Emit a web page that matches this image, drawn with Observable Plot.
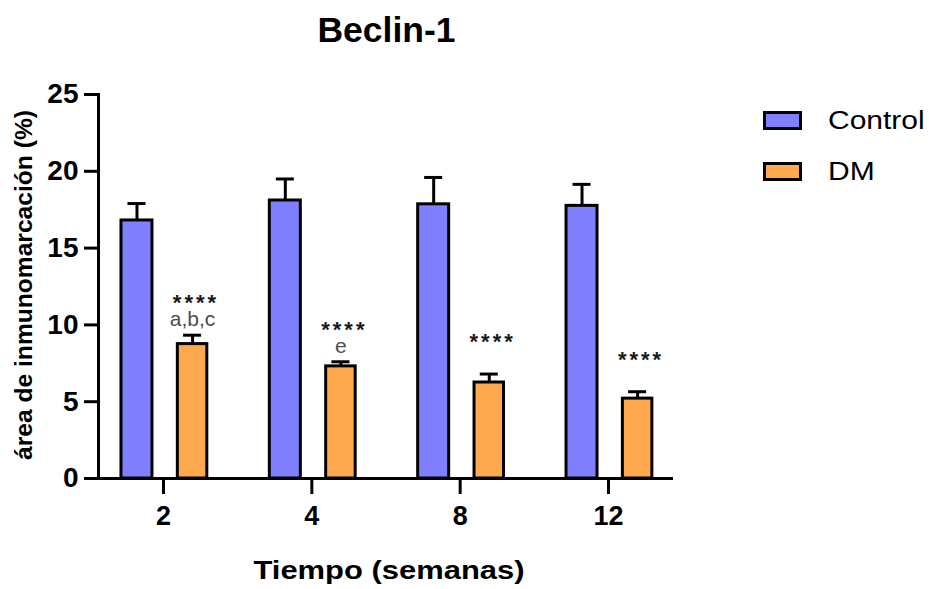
<!DOCTYPE html>
<html><head><meta charset="utf-8">
<script src="https://cdn.jsdelivr.net/npm/d3@7"></script>
<script src="https://cdn.jsdelivr.net/npm/@observablehq/plot@0.6"></script>
<style>
html,body{margin:0;padding:0;background:#fff;}
#wrap{position:relative;width:929px;height:589px;overflow:hidden;font-family:"Liberation Sans",Arial,Helvetica,sans-serif;color:#000;background:#fff;}
#wrap svg{position:absolute;left:0;top:0;}
#wrap svg g[fill="#1a1a1a"] text{letter-spacing:3px;}
.t{position:absolute;white-space:nowrap;line-height:1;}
.sw{position:absolute;box-sizing:border-box;border:3px solid #000;}
</style></head><body><div id="wrap"></div>
<script>
// ---- data ----
const weeks = ["2", "4", "8", "12"];
const groups = ["Control", "DM"];
const controlMean = [16.8, 18.1, 17.85, 17.75];
const controlSem = [1.1, 1.4, 1.75, 1.4];
const dmMean = [8.75, 7.3, 6.25, 5.2];
const dmSem = [0.58, 0.3, 0.55, 0.45];
const dmStars = ["****", "****", "****", "****"];
const dmLetters = ["a,b,c", "e", "", ""];
const yTicks = [0, 5, 10, 15, 20, 25];
const colors = ["#8080FF", "#FFA94F"];
const titleText = "Beclin-1";
const xTitle = "Tiempo (semanas)";
const yTitle = "área de inmunomarcación (%)";

const control = weeks.map((w, i) => ({week: w, group: groups[0], mean: controlMean[i], top: controlMean[i] + controlSem[i]}));
const dm = weeks.map((w, i) => ({week: w, group: groups[1], mean: dmMean[i], top: dmMean[i] + dmSem[i], stars: dmStars[i], letters: dmLetters[i]}));

const font = '"Liberation Sans", Arial, Helvetica, sans-serif';
const plot = Plot.plot({
  width: 929, height: 589,
  marginLeft: 98, marginRight: 256, marginTop: 94, marginBottom: 111,
  style: {fontFamily: font, background: "transparent", color: "#000"},
  x: {domain: weeks, paddingInner: 0.2, paddingOuter: 0.038, round: false},
  y: {domain: [0, 25]},
  color: {domain: groups, range: colors},
  marks: [
    Plot.barY(control, {x: "week", y: "mean", fill: "group", stroke: "#000", strokeWidth: 3, insetLeft: 17.34, insetRight: 70.34}),
    Plot.barY(dm, {x: "week", y: "mean", fill: "group", stroke: "#000", strokeWidth: 3, insetLeft: 73.7, insetRight: 15.5}),
    Plot.ruleX(control, {x: "week", y1: "mean", y2: "top", dx: -26.5, stroke: "#000", strokeWidth: 3}),
    Plot.tickY(control, {x: "week", y: "top", insetLeft: 23.84, insetRight: 76.84, stroke: "#000", strokeWidth: 3}),
    Plot.ruleX(dm, {x: "week", y1: "mean", y2: "top", dx: 29.1, stroke: "#000", strokeWidth: 3}),
    Plot.tickY(dm, {x: "week", y: "top", insetLeft: 79.44, insetRight: 21.24, stroke: "#000", strokeWidth: 3}),
    Plot.text(dm, {x: "week", y: "top", text: "stars", dx: 32.5, dy: -25, lineAnchor: "bottom", fontSize: 22, fontWeight: "bold", fill: "#1a1a1a"}),
    Plot.text(dm.filter(d => d.letters), {x: "week", y: "top", text: "letters", dx: 29, dy: -9, lineAnchor: "bottom", fontSize: 21, fill: "#4d4d4d"}),
    Plot.axisY({ticks: yTicks, tickSize: 14, tickPadding: 6, strokeWidth: 3, fontSize: 28, fontWeight: "bold", label: null}),
    Plot.axisX({tickSize: 16, tickPadding: 11, strokeWidth: 3, fontSize: 27, fontWeight: "bold", label: null}),
    Plot.ruleY([0], {stroke: "#000", strokeWidth: 3}),
    Plot.frame({anchor: "left", stroke: "#000", strokeWidth: 3})
  ]
});
const wrap = document.getElementById("wrap");
wrap.appendChild(plot);

function addText(txt, css) {
  const d = document.createElement("div");
  d.className = "t";
  d.textContent = txt;
  Object.assign(d.style, css);
  wrap.appendChild(d);
  return d;
}
addText(titleText, {left: "386.5px", top: "13px", fontSize: "35.5px", fontWeight: "bold", transform: "translateX(-50%)"});
addText(xTitle, {left: "389px", top: "557px", fontSize: "26px", fontWeight: "bold", transform: "translateX(-50%) scaleX(1.19)"});
addText(yTitle, {left: "24px", top: "285px", fontSize: "24.6px", fontWeight: "bold", transform: "translate(-50%,-50%) rotate(-90deg)"});

// legend
const legendTops = [111, 162];
groups.forEach((g, i) => {
  const s = document.createElement("div");
  s.className = "sw";
  Object.assign(s.style, {left: "763px", top: legendTops[i] + "px", width: "39px", height: "19px", background: colors[i]});
  wrap.appendChild(s);
  addText(g, {left: "828px", top: (legendTops[i] - 3.5) + "px", fontSize: "25px", transform: "scaleX(1.2)", transformOrigin: "left center"});
});
</script></body></html>
